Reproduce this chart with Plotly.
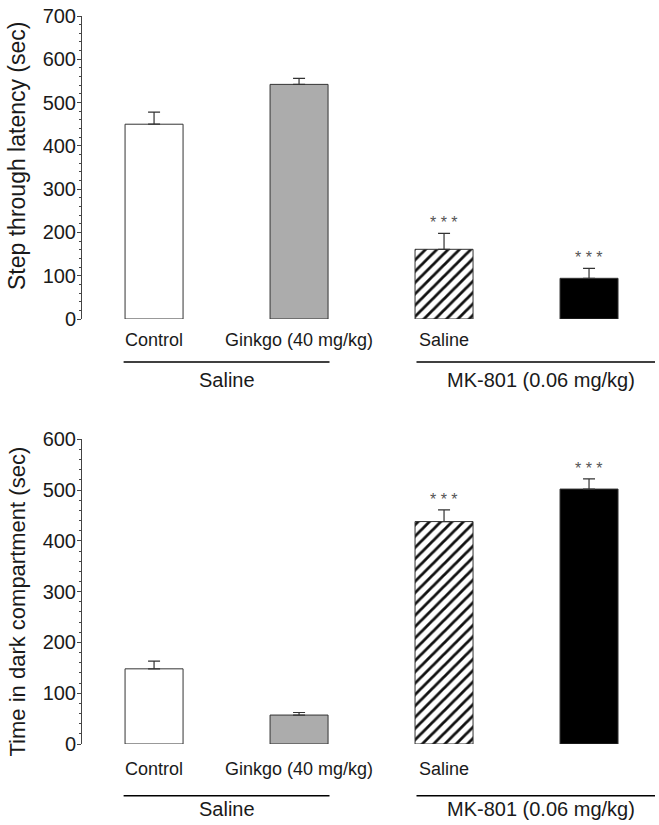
import plotly.graph_objects as go

categories = ["Control", "Ginkgo (40 mg/kg)", "Saline", "Ginkgo (40 mg/kg)"]
groups = ["Saline", "MK-801 (0.06 mg/kg)"]
group_members = [[0, 1], [2, 3]]

latency_mean = [450, 542, 161, 94]
latency_sem = [28, 14, 37, 23]
latency_sig = ["", "", "* * *", "* * *"]

dark_mean = [148, 57, 438, 502]
dark_sem = [15, 5, 23, 20]
dark_sig = ["", "", "* * *", "* * *"]

y1_ticks = [0, 100, 200, 300, 400, 500, 600, 700]
y2_ticks = [0, 100, 200, 300, 400, 500, 600]
y1_title = "Step through latency (sec)"
y2_title = "Time in dark compartment (sec)"

FONT = "Liberation Sans, Arial, sans-serif"
TXT = "#1a1a1a"
x = list(range(len(categories)))

styles = [
    dict(color="white", pattern=dict(shape="")),
    dict(color="#b0b0b0", pattern=dict(shape="|", size=2, solidity=0.5,
                                       fgcolor="#8a8a8a", bgcolor="#cfcfcf", fillmode="replace")),
    dict(color="white", pattern=dict(shape="/", size=8, solidity=0.35,
                                     fgcolor="#111111", bgcolor="white", fillmode="replace")),
    dict(color="black", pattern=dict(shape="")),
]

fig = go.Figure()


def add_bars(mean, sem, xa, ya):
    for i in x:
        st = styles[i]
        fig.add_trace(go.Bar(
            x=[x[i]], y=[mean[i]], width=0.4, xaxis=xa, yaxis=ya,
            marker=dict(color=st["color"], line=dict(color="#333", width=1),
                        pattern=st["pattern"]),
            error_y=dict(type="data", array=[sem[i]], arrayminus=[0],
                         symmetric=False, color="#333", thickness=1.2, width=6),
            showlegend=False, hoverinfo="skip",
        ))


add_bars(latency_mean, latency_sem, "x", "y")
add_bars(dark_mean, dark_sem, "x2", "y2")

ann = []
for mean, sem, sig, yr in [(latency_mean, latency_sem, latency_sig, "y"),
                           (dark_mean, dark_sem, dark_sig, "y2")]:
    for i, s in enumerate(sig):
        if s:
            ann.append(dict(x=x[i], y=mean[i] + sem[i], xref="x" if yr == "y" else "x2",
                            yref=yr, text=s, showarrow=False, yanchor="bottom",
                            yshift=0, font=dict(size=16, color="#555", family=FONT)))

shapes = []
for yl, yt in [(1 - 362 / 825, 1 - 380 / 825), (1 - 795.7 / 825, 1 - 809 / 825)]:
    for gi, (g, mem) in enumerate(zip(groups, group_members)):
        if gi == 0:
            x0, x1 = mem[0] - 0.21, mem[-1] + 0.21
            xc = (mem[0] + mem[-1]) / 2
        else:
            x0, x1 = mem[0] - 0.19, 3.455
            xc = (mem[0] + mem[-1]) / 2 + 0.17
        shapes.append(dict(type="line", xref="x", yref="paper", x0=x0, x1=x1,
                           y0=yl, y1=yl, line=dict(color="black", width=1.5)))
        ann.append(dict(x=xc, y=yt, xref="x", yref="paper", text=g, showarrow=False,
                        xanchor="center", yanchor="middle",
                        font=dict(size=20, color=TXT, family=FONT)))

# y-axis titles as rotated annotations
for title, yc, fs in [(y1_title, 1 - 156 / 825, 23), (y2_title, 1 - 601.5 / 825, 22)]:
    ann.append(dict(x=17 / 659, y=yc, xref="paper", yref="paper", text=title,
                    textangle=-90, showarrow=False, xanchor="center", yanchor="middle",
                    font=dict(size=fs, color=TXT, family=FONT)))

xcommon = dict(range=[-0.497, 3.455], tickvals=x, ticktext=categories, showline=False,
               ticks="", showgrid=False, zeroline=False, domain=[82 / 659, 655 / 659],
               automargin=False, tickfont=dict(size=18, color=TXT, family=FONT))

ycommon = dict(showline=True, linecolor="#444", linewidth=1, ticks="outside", ticklen=4,
               tickwidth=1, tickcolor="#444", showgrid=False, zeroline=False, automargin=False,
               tickfont=dict(size=20, color=TXT, family=FONT), ticklabelstandoff=-3,
               minor=dict(ticks="outside", ticklen=2, dtick=20, tickcolor="#444", tickwidth=1))

fig.update_layout(
    width=659, height=825, margin=dict(l=0, r=0, t=0, b=0, autoexpand=False),
    plot_bgcolor="white", paper_bgcolor="white", barmode="overlay",
    font=dict(family=FONT, color=TXT),
    xaxis=dict(**xcommon, anchor="y", ticklabelstandoff=8),
    xaxis2=dict(**xcommon, anchor="y2", ticklabelstandoff=12),
    yaxis=dict(**ycommon, range=[0, 700], tickvals=y1_ticks, domain=[1 - 319 / 825, 1 - 16 / 825],
               anchor="x"),
    yaxis2=dict(**ycommon, range=[0, 600], tickvals=y2_ticks, domain=[1 - 744 / 825, 1 - 439.3 / 825],
                anchor="x2"),
    annotations=ann, shapes=shapes,
)

fig.write_html("out.html", config={"displayModeBar": False},
               post_script="document.body.style.margin='0';document.body.style.overflow='hidden';")
